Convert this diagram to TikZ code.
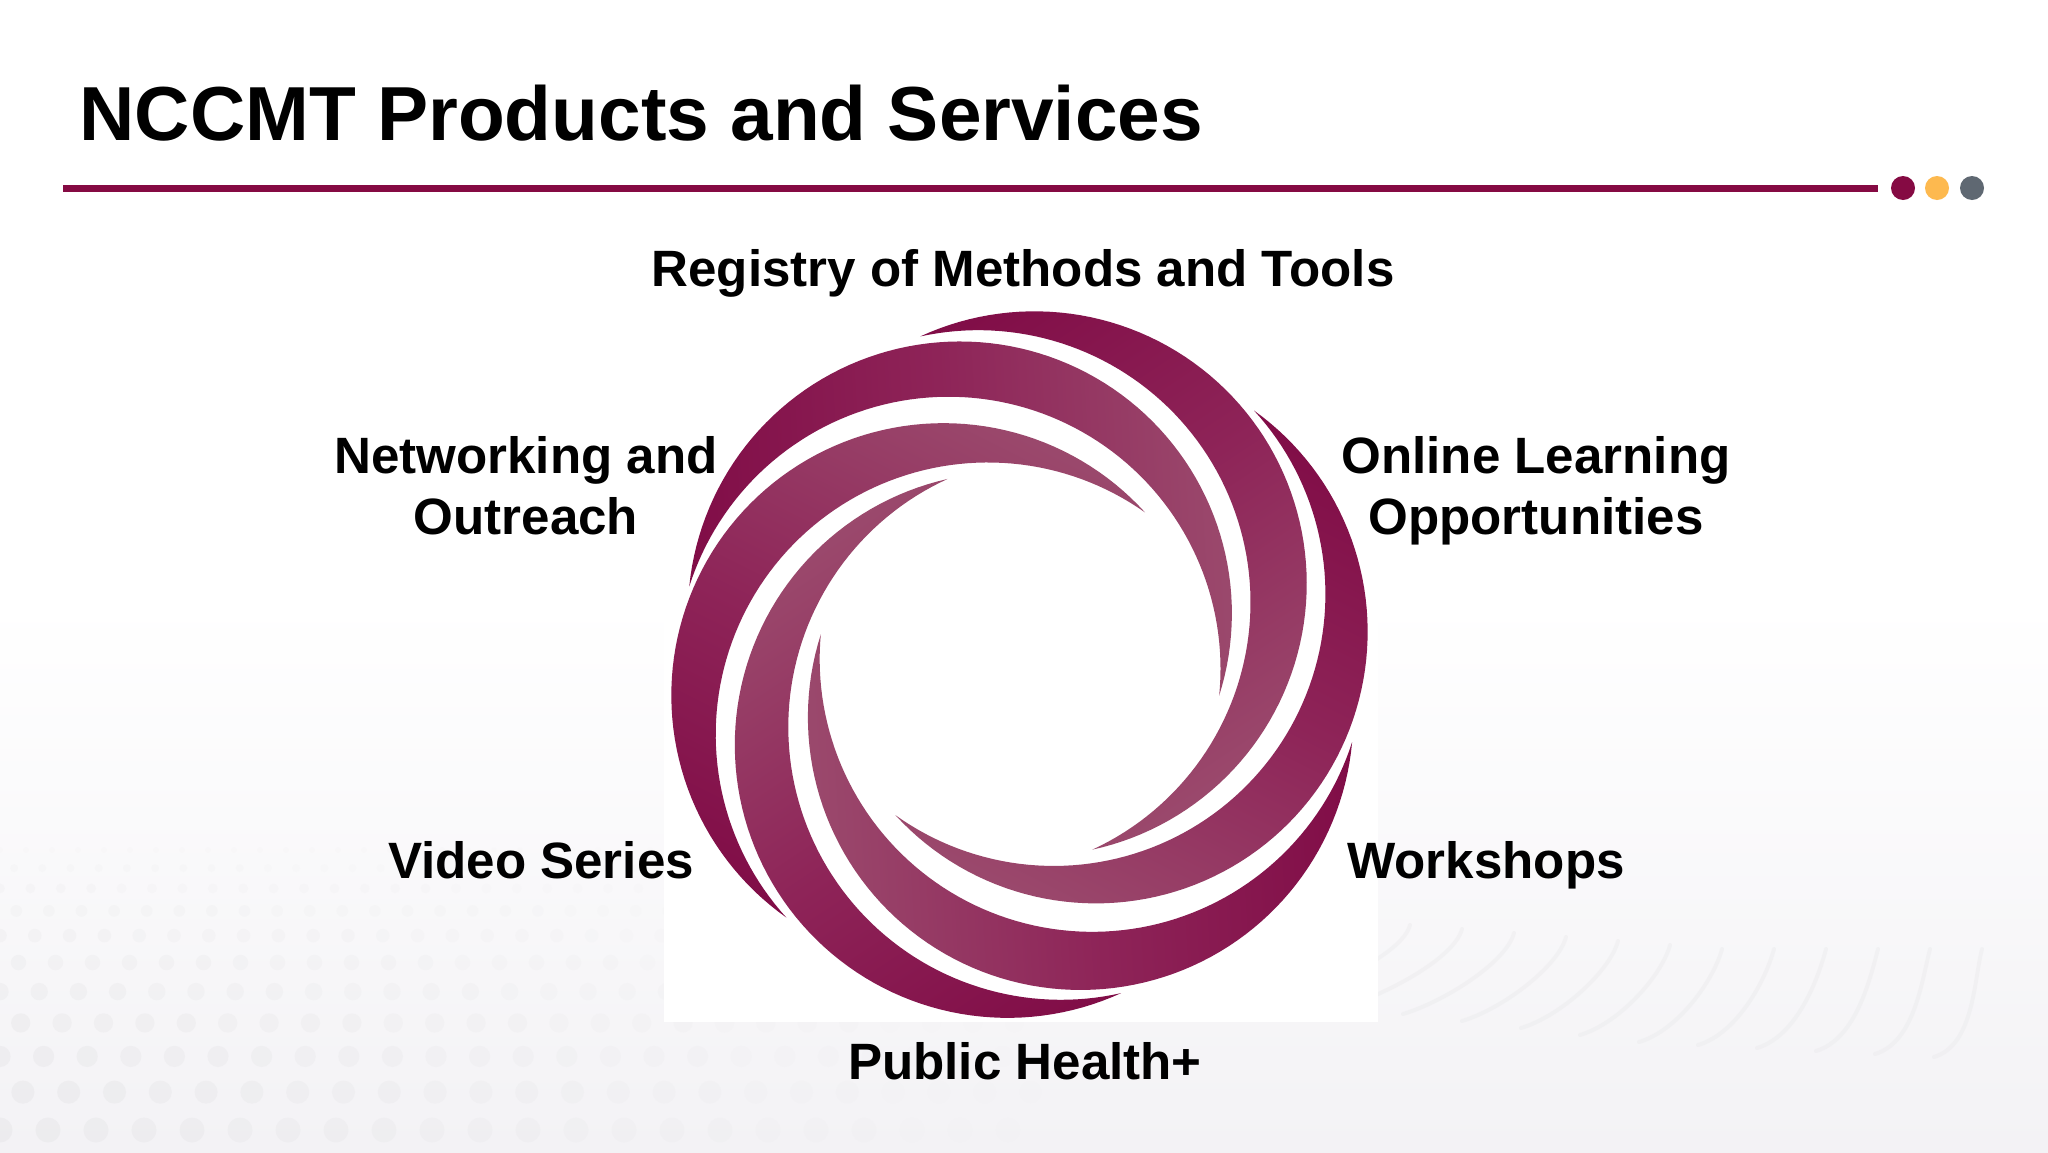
\documentclass[tikz,border=0pt]{standalone}
\usepackage{fontspec}
\setmainfont{Liberation Sans}
\definecolor{wine}{HTML}{850A43}
\definecolor{amber}{HTML}{FDB94F}
\definecolor{slate}{HTML}{5F6872}
\definecolor{swB}{HTML}{9B4A6D}
\definecolor{swC}{HTML}{8E2458}
\definecolor{swD}{HTML}{7F0A45}
\definecolor{bgend}{HTML}{F3F2F5}
\definecolor{bgmark}{HTML}{D8D8DA}
\pgfdeclareverticalshading{swirlaxis}{100bp}{color(0bp)=(swD);color(32.7bp)=(swD);color(50bp)=(swC);color(67.3bp)=(swB);color(100bp)=(swB)}
\tikzset{
  lab/.style={font=\bfseries\fontsize{25.55}{30.7}\selectfont,text=black,align=center,inner sep=0pt},
  ttl/.style={font=\bfseries\fontsize{38.3}{46}\selectfont,text=black,inner sep=0pt,anchor=base west},
  dotn/.style={circle,minimum size=12pt,inner sep=0pt}
}
\begin{document}
\begin{tikzpicture}[x=0.5pt,y=-0.5pt]
\useasboundingbox (0,0) rectangle (2048,1152);
% background
\fill[white] (0,0) rectangle (2048,1152);
\shade[top color=white,bottom color=bgend] (0,600) rectangle (2048,1152);
% dot texture, left
\foreach \j in {0,...,11}{
  \pgfmathsetmacro{\yy}{850+\j*(17+\j*1.1)}
  \pgfmathsetmacro{\rr}{3+\j*0.95}
  \pgfmathsetmacro{\st}{26+\j*2.2}
  \pgfmathsetmacro{\fade}{min(1,0.25+\j*0.09)}
  \foreach \i in {-1,...,30}{
    \pgfmathsetmacro{\xx}{mod(\j,2)*\st/2+\i*\st}
    \pgfmathsetmacro{\op}{0.24*\fade*max(0,1-\xx/1050)}
    \fill[bgmark,opacity=\op] (\xx,\yy) circle ({\rr});
  }
}
% streak texture, right
\foreach \k in {0,...,11}{
  \pgfmathsetmacro{\tx}{1410+\k*52}
  \pgfmathsetmacro{\ty}{925+min(\k,6)*4}
  \pgfmathsetmacro{\bx}{\tx-125+\k*7}
  \pgfmathsetmacro{\by}{\ty+75+\k*3}
  \draw[bgmark,opacity=0.17,line width=2pt,line cap=round] (\tx,\ty) .. controls ({\tx-8},{\ty+30}) and ({\bx+40},{\by-12}) .. (\bx,\by);
}
% white image panel
\fill[white] (664,310) rectangle (1378,1022);
% swirl: six lunes, each between two equal circles through its two tips
\foreach \zax/\zay/\zbx/\zby/\zd in {
  82/620/1190/848/118, 1263/252/513/1098/118, 985/1470/622/395/118,
  285/1312/1035/465/124, 565/97/925/1170/124, 1468/945/357/720/124}{
  \pgfmathsetmacro{\tax}{650+\zax/2.0907}
  \pgfmathsetmacro{\tay}{290+\zay/2.0907}
  \pgfmathsetmacro{\tbx}{650+\zbx/2.0907}
  \pgfmathsetmacro{\tby}{290+\zby/2.0907}
  \pgfmathsetmacro{\off}{\zd/2/2.0907}
  \pgfmathsetmacro{\mx}{(\tax+\tbx)/2}
  \pgfmathsetmacro{\my}{(\tay+\tby)/2}
  \pgfmathsetmacro{\hh}{veclen(\tbx-\tax,\tby-\tay)/2}
  \pgfmathsetmacro{\rad}{veclen(\hh,\off)}
  \pgfmathsetmacro{\nx}{(\tby-\tay)/(2*\hh)}
  \pgfmathsetmacro{\ny}{-(\tbx-\tax)/(2*\hh)}
  \pgfmathsetmacro{\ocx}{\mx+\nx*\off}
  \pgfmathsetmacro{\ocy}{\my+\ny*\off}
  \pgfmathsetmacro{\icx}{\mx-\nx*\off}
  \pgfmathsetmacro{\icy}{\my-\ny*\off}
  \pgfmathsetmacro{\oa}{atan2(\tay-\ocy,\tax-\ocx)}
  \pgfmathsetmacro{\ob}{atan2(\tby-\ocy,\tbx-\ocx)}
  \pgfmathsetmacro{\obb}{\ob<\oa ? \ob+360 : \ob}
  \pgfmathsetmacro{\ia}{atan2(\tay-\icy,\tax-\icx)}
  \pgfmathsetmacro{\ib}{atan2(\tby-\icy,\tbx-\icx)}
  \pgfmathsetmacro{\ibb}{\ib<\ia ? \ib+360 : \ib}
  \pgfmathsetmacro{\axis}{atan2(\tby-\tay,\tbx-\tax)-15}
  \pgfmathsetmacro{\shang}{-\axis-90}
  \begin{scope}
    \clip plot[domain=\oa:\obb,samples=90] ({\ocx+\rad*cos(\x)},{\ocy+\rad*sin(\x)})
      -- plot[domain=\ibb:\ia,samples=90] ({\icx+\rad*cos(\x)},{\icy+\rad*sin(\x)}) -- cycle;
    \shade[shading=swirlaxis,shading angle=\shang] (\mx,\my) circle (420);
  \end{scope}
}
% heading
\node[ttl] (title) at (79,140) {NCCMT Products and Services};
\coordinate (ruleL) at (63,188);
\coordinate (ruleR) at (1878,188);
\draw[wine,line width=3.5pt] (ruleL) -- (ruleR);
\node[dotn,fill=wine] (d1) at (1903,188) {};
\node[dotn,fill=amber] (d2) at (1937,188) {};
\node[dotn,fill=slate] (d3) at (1972,188) {};
% labels
\node[lab] (reg) at (1023,273) {Registry of Methods and Tools};
\node[lab] (net) at (526,486) {Networking and\\Outreach};
\node[lab] (onl) at (1536,491) {Online Learning\\Opportunities};
\node[lab] (vid) at (541,860) {Video Series};
\node[lab] (wor) at (1486,865) {Workshops};
\node[lab] (pub) at (1025,1061) {Public Health+};
\end{tikzpicture}
\end{document}
